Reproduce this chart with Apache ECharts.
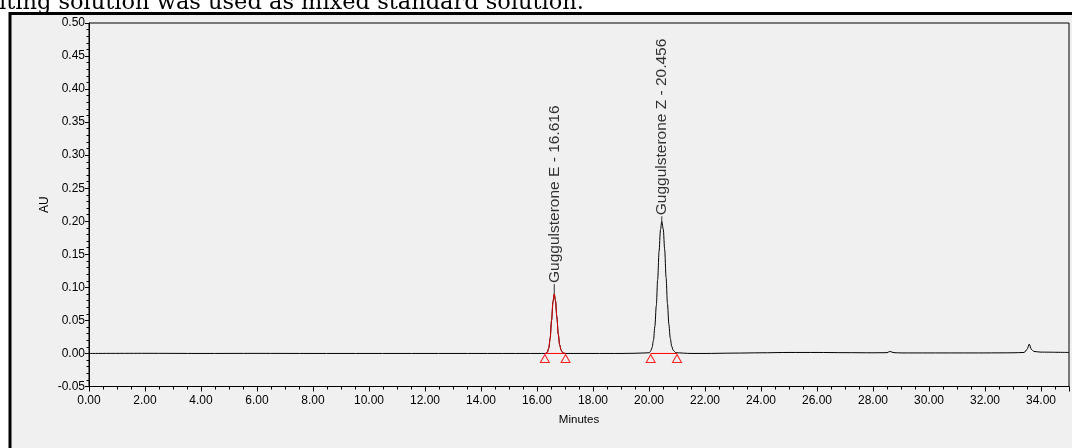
<!DOCTYPE html>
<html>
<head>
<meta charset="utf-8">
<script src="https://cdn.jsdelivr.net/npm/echarts@6/dist/echarts.min.js"></script>
<style>
  html, body { margin: 0; padding: 0; background: #fff; }
  #chart { width: 1072px; height: 448px; }
</style>
</head>
<body>
<div id="chart"></div>
<script>
// caption line cut off above the figure
const captionText = "iting solution was used as mixed standard solution.";

// chromatogram trace (minutes / AU)
const traceTime = [
  0, 2, 4, 6, 8, 10, 12, 14, 15, 16, 16.3,
  16.37, 16.42, 16.47, 16.52, 16.57, 16.616, 16.66, 16.71, 16.76, 16.81, 16.86, 16.92, 17.0,
  17.5, 18, 19, 19.5, 20.01,
  20.06, 20.11, 20.16, 20.21, 20.26, 20.31, 20.36, 20.41, 20.456, 20.51, 20.56, 20.61,
  20.66, 20.71, 20.76, 20.81, 20.86, 20.96,
  21.5, 22, 23, 24, 25, 26, 27, 28, 28.5, 28.6, 28.75, 29, 30, 31, 32, 33, 33.4,
  33.5, 33.58, 33.66, 33.75, 34, 35
];
const traceAU = [
  0, 0.0002, 0, 0.0001, 0, 0, 0, 0, 0, 0, 0,
  0.002, 0.008, 0.023, 0.050, 0.078, 0.090, 0.080, 0.055, 0.029, 0.013, 0.005, 0.001, 0,
  0, 0, 0, 0.0003, 0.001,
  0.0035, 0.009, 0.020, 0.041, 0.072, 0.112, 0.155, 0.187, 0.200, 0.188, 0.157, 0.115,
  0.075, 0.044, 0.023, 0.011, 0.005, 0.001,
  0, 0, 0.0005, 0.001, 0.0015, 0.0015, 0.0012, 0.001, 0.0012, 0.003, 0.0012, 0.0008, 0.0008, 0.0008, 0.0008, 0.001, 0.0015,
  0.006, 0.014, 0.006, 0.003, 0.002, 0.0015
];

// identified peaks
const peakNames = ["Guggulsterone E", "Guggulsterone Z"];
const peakTimes = [16.616, 20.456];
const peakHeights = [0.090, 0.200];
// integration windows (start / end minutes)
const integStart = [16.28, 20.06];
const integEnd = [17.02, 21.0];

const chart = echarts.init(document.getElementById("chart"));

const tracePts = traceTime.map((t, i) => [t, traceAU[i]]);
const redPts = tracePts.filter(p => p[0] >= integStart[0] && p[0] <= integEnd[0]);

const fontSans = "Liberation Sans, Arial, sans-serif";
const axisFont = { color: "#000", fontSize: 12, fontFamily: fontSans };
const leaderLen = [10, 5];

const baseSeries = integStart.map((s, i) => ({
  type: "line",
  data: [[s, 0], [integEnd[i], 0]],
  symbol: "triangle",
  symbolSize: [9, 8],
  symbolOffset: [0, 5],
  lineStyle: { color: "#ff0000", width: 1 },
  itemStyle: { color: "rgba(0,0,0,0)", borderColor: "#ff2020", borderWidth: 1 },
  z: 4,
  silent: true
}));

chart.setOption({
  backgroundColor: "#fff",
  animation: false,
  graphic: [
    {
      type: "rect",
      shape: { x: 10, y: 13.5, width: 1200, height: 600 },
      style: { fill: "#f0f0f0", stroke: "#000", lineWidth: 3 },
      z: -10
    },
    {
      type: "text",
      x: -1,
      y: 3,
      style: {
        text: captionText,
        font: "22.5px 'DejaVu Serif', serif",
        fill: "#000",
        textVerticalAlign: "middle"
      },
      z: -5
    }
  ],
  grid: {
    left: 89,
    right: 2,
    top: 23,
    bottom: 61.5,
    show: true,
    borderColor: "#000",
    borderWidth: 1,
    backgroundColor: "transparent"
  },
  xAxis: {
    type: "value",
    min: 0,
    max: 35,
    interval: 2,
    name: "Minutes",
    nameLocation: "middle",
    nameGap: 27,
    nameMoveOverlap: false,
    nameTextStyle: { color: "#000", fontSize: 11.5, fontFamily: fontSans },
    axisLine: { onZero: false, lineStyle: { color: "#000", width: 1 } },
    axisTick: { show: true, length: 5, lineStyle: { color: "#000" } },
    minorTick: { show: true, splitNumber: 4, length: 3, lineStyle: { color: "#000" } },
    axisLabel: Object.assign({
      margin: 8,
      formatter: v => (v > 34.5 ? "" : v.toFixed(2))
    }, axisFont),
    splitLine: { show: false }
  },
  yAxis: {
    type: "value",
    min: -0.05,
    max: 0.5,
    interval: 0.05,
    name: "AU",
    nameLocation: "middle",
    nameGap: 38,
    nameMoveOverlap: false,
    nameTextStyle: { color: "#000", fontSize: 12, fontFamily: fontSans },
    axisLine: { show: true, lineStyle: { color: "#000", width: 1 } },
    axisTick: { show: true, length: 4, lineStyle: { color: "#000" } },
    minorTick: { show: true, splitNumber: 5, length: 2.5, lineStyle: { color: "#000" } },
    axisLabel: Object.assign({
      margin: 4,
      formatter: v => v.toFixed(2)
    }, axisFont),
    splitLine: { show: false }
  },
  series: [
    {
      type: "line",
      data: tracePts,
      showSymbol: false,
      smooth: 0.3,
      smoothMonotone: "x",
      lineStyle: { color: "#000", width: 1 },
      z: 3,
      silent: true
    },
    {
      type: "line",
      data: redPts,
      showSymbol: false,
      smooth: 0.3,
      smoothMonotone: "x",
      lineStyle: { color: "#e00000", width: 1 },
      z: 5,
      silent: true
    },
    ...baseSeries,
    {
      type: "scatter",
      data: peakTimes.map((t, i) => ({
        value: [t, peakHeights[i]],
        name: peakNames[i] + " - " + t.toFixed(3),
        symbolSize: [1, leaderLen[i]],
        symbolOffset: [0, -leaderLen[i] / 2]
      })),
      symbol: "rect",
      itemStyle: { color: "#000" },
      label: {
        show: true,
        position: "top",
        distance: 1,
        rotate: 90,
        align: "left",
        verticalAlign: "middle",
        formatter: p => p.name,
        color: "#000",
        fontSize: 15.5,
        fontFamily: fontSans
      },
      z: 6,
      silent: true
    }
  ]
});
</script>
</body>
</html>
